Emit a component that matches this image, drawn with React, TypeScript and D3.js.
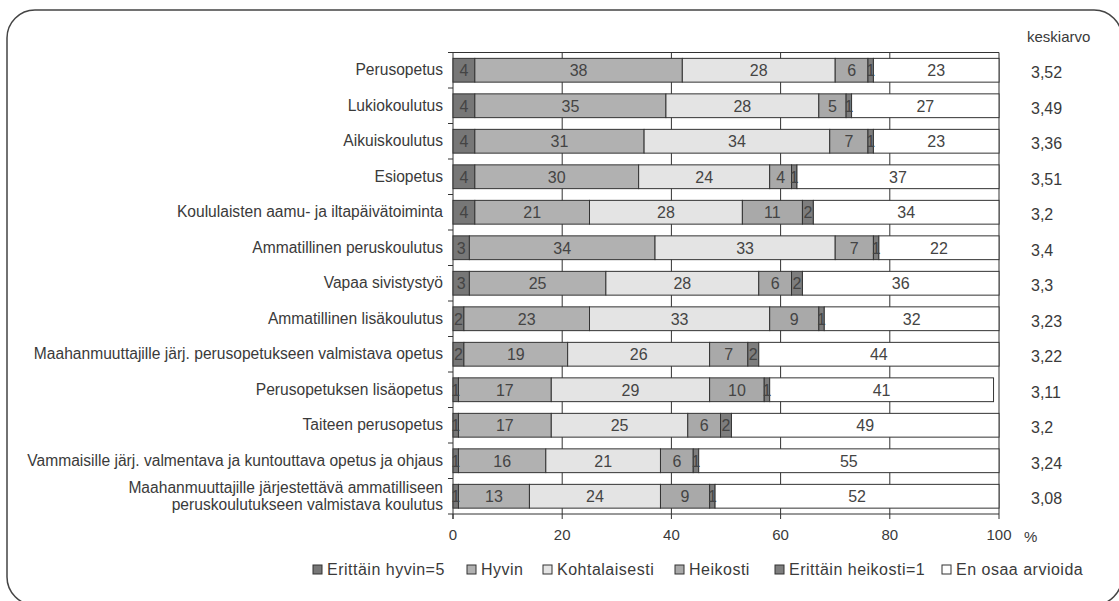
import React from "react";
import * as d3 from "d3";

const categories: string[][] = [
  ["Perusopetus"],
  ["Lukiokoulutus"],
  ["Aikuiskoulutus"],
  ["Esiopetus"],
  ["Koululaisten aamu- ja iltapäivätoiminta"],
  ["Ammatillinen peruskoulutus"],
  ["Vapaa sivistystyö"],
  ["Ammatillinen lisäkoulutus"],
  ["Maahanmuuttajille järj. perusopetukseen valmistava opetus"],
  ["Perusopetuksen lisäopetus"],
  ["Taiteen perusopetus"],
  ["Vammaisille järj. valmentava ja kuntouttava opetus ja ohjaus"],
  ["Maahanmuuttajille järjestettävä ammatilliseen", "peruskoulutukseen valmistava koulutus"],
];

const seriesNames = [
  "Erittäin hyvin=5",
  "Hyvin",
  "Kohtalaisesti",
  "Heikosti",
  "Erittäin heikosti=1",
  "En osaa arvioida",
];

const erittainHyvin = [4, 4, 4, 4, 4, 3, 3, 2, 2, 1, 1, 1, 1];
const hyvin = [38, 35, 31, 30, 21, 34, 25, 23, 19, 17, 17, 16, 13];
const kohtalaisesti = [28, 28, 34, 24, 28, 33, 28, 33, 26, 29, 25, 21, 24];
const heikosti = [6, 5, 7, 4, 11, 7, 6, 9, 7, 10, 6, 6, 9];
const erittainHeikosti = [1, 1, 1, 1, 2, 1, 2, 1, 2, 1, 2, 1, 1];
const enOsaa = [23, 27, 23, 37, 34, 22, 36, 32, 44, 41, 49, 55, 52];

const keskiarvo = ["3,52", "3,49", "3,36", "3,51", "3,2", "3,4", "3,3", "3,23", "3,22", "3,11", "3,2", "3,24", "3,08"];

const xTicks = [0, 20, 40, 60, 80, 100];

const colors = ["#777777", "#b1b1b1", "#e4e4e4", "#a9a9a9", "#7e7e7e", "#ffffff"];

const series = [erittainHyvin, hyvin, kohtalaisesti, heikosti, erittainHeikosti, enOsaa];

export default function App() {
  const W = 1119;
  const H = 601;
  const left = 453;
  const right = 999;
  const top = 52.5;
  const bottom = 514;
  const x = d3.scaleLinear().domain([0, 100]).range([left, right]);
  const y = d3
    .scaleBand<number>()
    .domain(d3.range(categories.length))
    .range([top, bottom])
    .paddingInner(0.33)
    .paddingOuter(0.165);
  const step = y.step();
  const textColor = "#3a3a3a";
  const font = "'Liberation Sans', Arial, sans-serif";

  const rows = categories.map((_, i) => {
    let acc = 0;
    return series.map((s, k) => {
      const x0 = acc;
      acc += s[i];
      return { k, v: s[i], x0, x1: acc };
    });
  });

  const legendX = [313, 467, 543, 675, 775, 942];

  return (
    <svg
      width={W}
      height={H}
      style={{ position: "absolute", left: 0, top: 0, background: "#fff" }}
      fontFamily={font}
    >
      <rect x={7} y={10} width={1115} height={595} rx={28} ry={28} fill="none" stroke="#444" strokeWidth={1.5} />

      {/* grid lines */}
      {xTicks.slice(1, 5).map((t) => (
        <line key={t} x1={x(t)} x2={x(t)} y1={top} y2={bottom} stroke="#333" strokeWidth={1} />
      ))}
      {/* plot border */}
      <line x1={left} x2={right} y1={top} y2={top} stroke="#333" />
      <line x1={right} x2={right} y1={top} y2={bottom} stroke="#333" />
      <line x1={left} x2={right} y1={bottom} y2={bottom} stroke="#333" />
      <line x1={left} x2={left} y1={top} y2={bottom + 5} stroke="#333" />
      {/* y ticks at band boundaries */}
      {d3.range(categories.length + 1).map((i) => (
        <line key={i} x1={left - 5} x2={left} y1={top + i * step} y2={top + i * step} stroke="#333" />
      ))}
      {/* x ticks */}
      {xTicks.map((t) => (
        <line key={t} x1={x(t)} x2={x(t)} y1={bottom} y2={bottom + 5} stroke="#333" />
      ))}
      {xTicks.map((t) => (
        <text key={t} x={x(t)} y={bottom + 26} textAnchor="middle" fontSize={15} fill={textColor}>
          {t}
        </text>
      ))}
      <text x={1024} y={bottom + 28} fontSize={15} fill={textColor}>%</text>

      {/* bars */}
      {rows.map((segs, i) =>
        segs.map((sg) => (
          <rect
            key={i + "-" + sg.k}
            x={x(sg.x0)}
            y={y(i)!}
            width={x(sg.x1) - x(sg.x0)}
            height={y.bandwidth()}
            fill={colors[sg.k]}
            stroke="#333"
            strokeWidth={1}
          />
        ))
      )}
      {rows.map((segs, i) =>
        segs.map((sg) => (
          <text
            key={"t" + i + "-" + sg.k}
            x={(x(sg.x0) + x(sg.x1)) / 2}
            y={y(i)! + y.bandwidth() / 2 + 6}
            textAnchor="middle"
            fontSize={16}
            fill="#444"
          >
            {sg.v}
          </text>
        ))
      )}

      {/* category labels */}
      {categories.map((lines, i) => {
        const cy = y(i)! + y.bandwidth() / 2;
        return (
          <text key={i} x={left - 10} textAnchor="end" fontSize={15.6} fill={textColor}>
            {lines.map((ln, j) => (
              <tspan key={j} x={left - 10} y={cy + 5 + (j - (lines.length - 1) / 2) * 17}>
                {ln}
              </tspan>
            ))}
          </text>
        );
      })}

      {/* keskiarvo */}
      <text x={1027} y={42} fontSize={15} fill={textColor}>keskiarvo</text>
      {keskiarvo.map((v, i) => (
        <text key={i} x={1031} y={y(i)! + y.bandwidth() / 2 + 8} fontSize={16} fill={textColor}>
          {v}
        </text>
      ))}

      {/* legend */}
      {seriesNames.map((n, k) => (
        <g key={n}>
          <rect x={legendX[k]} y={565} width={9} height={9} fill={colors[k]} stroke="#333" />
          <text x={legendX[k] + 14} y={575} fontSize={16} letterSpacing={0.5} fill={textColor}>
            {n}
          </text>
        </g>
      ))}
    </svg>
  );
}
